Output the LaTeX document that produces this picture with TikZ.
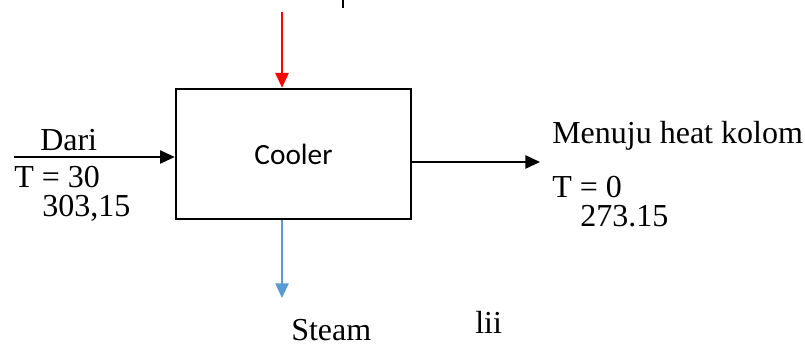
\documentclass[tikz,border=0pt]{standalone}
\usepackage{fontspec}
\setmainfont{Liberation Serif}
\newfontfamily\calib{Carlito}
\usetikzlibrary{arrows.meta}
\definecolor{steamblue}{HTML}{5B9BD5}
\begin{document}
\begin{tikzpicture}[x=0.75pt,y=-0.75pt,
  lbl/.style={anchor=base west,inner sep=0pt,font=\fontsize{24}{28}\selectfont},
  flow/.style={line width=1pt,-{Triangle[length=11pt,width=10pt]}},
  unitbox/.style={draw,line width=2pt,minimum width=235*0.75pt,minimum height=130*0.75pt,inner sep=0pt,font=\calib\fontsize{22}{26}\selectfont}]
\useasboundingbox (0,0) rectangle (805,345);
\node[unitbox] (cooler) at (293.5,154) {Cooler};
\coordinate (redtop) at (282,12);
\coordinate (inA) at (14,157);
\coordinate (outB) at (540,162);
\coordinate (steamEnd) at (282,298);
\coordinate (tickA) at (343,0);
\coordinate (tickB) at (343,8);
\draw[flow,red] (redtop) -- (redtop |- cooler.north);
\draw[flow] (inA) -- (inA -| cooler.west);
\draw[flow] (outB -| cooler.east) -- (outB);
\draw[flow,steamblue] (steamEnd |- cooler.south) -- (steamEnd);
\draw[line width=0.8pt] (tickA) -- (tickB);
\node[lbl] (dari) at (40,151) {Dari};
\node[lbl] (t30) at (14,188) {T = 30};
\node[lbl] (k30) at (42,216) {303,15};
\node[lbl] (menuju) at (552,144) {Menuju heat kolom};
\node[lbl] (t0) at (552,198) {T = 0};
\node[lbl] (k0) at (580,226) {273.15};
\node[lbl] (steam) at (291,340) {Steam};
\node[lbl] (lii) at (475,333) {lii};
\end{tikzpicture}
\end{document}
